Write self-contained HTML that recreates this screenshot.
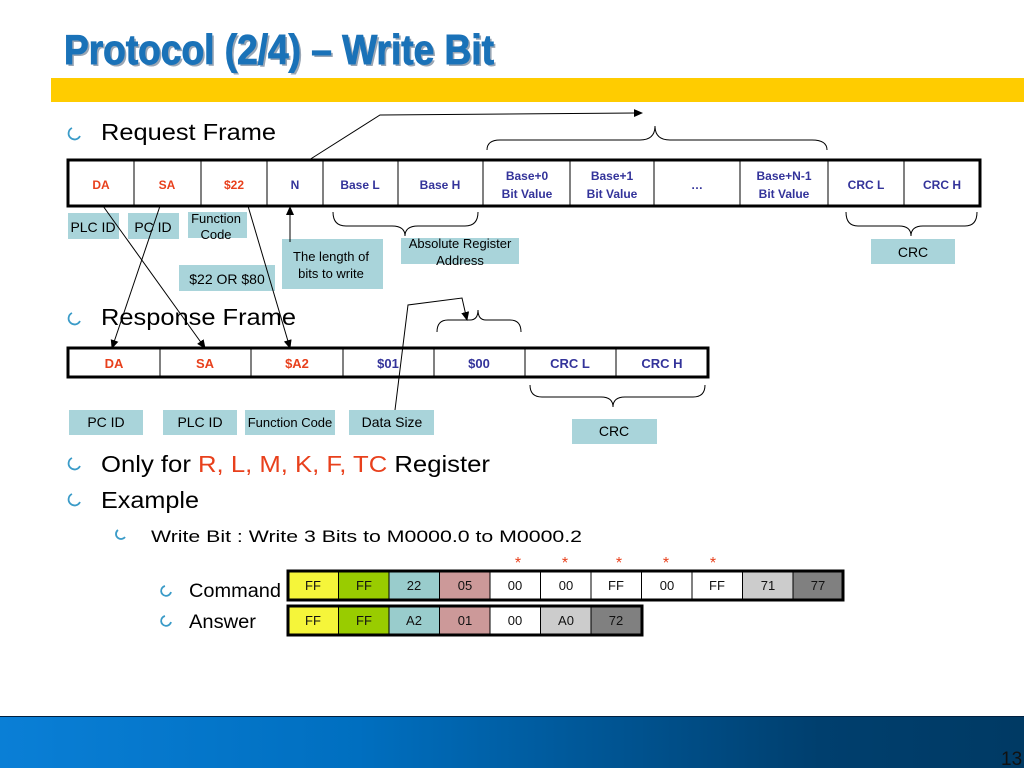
<!DOCTYPE html>
<html><head><meta charset="utf-8"><style>
body{margin:0;width:1024px;height:768px;overflow:hidden;background:#fff;font-family:"Liberation Sans",sans-serif;}
svg{position:absolute;left:0;top:0}
</style></head><body>
<svg width="1024" height="768" xmlns="http://www.w3.org/2000/svg" font-family="Liberation Sans, sans-serif">
<defs>
<linearGradient id="g" x1="0" x2="1"><stop offset="0" stop-color="#0a7fd6"/><stop offset="0.35" stop-color="#006fc0"/><stop offset="0.8" stop-color="#003f6e"/><stop offset="1" stop-color="#003a64"/></linearGradient>
<marker id="a" markerWidth="10" markerHeight="10" refX="8" refY="5" orient="auto" markerUnits="userSpaceOnUse"><path d="M0,1 L9,5 L0,9 z" fill="#000"/></marker>
</defs>
<text x="66" y="66" font-size="42" font-weight="bold" fill="#9aa6b4" textLength="430" lengthAdjust="spacingAndGlyphs">Protocol (2/4) – Write Bit</text>
<text x="64" y="64" font-size="42" font-weight="bold" fill="#1a72b8" stroke="#1a72b8" stroke-width="1" textLength="430" lengthAdjust="spacingAndGlyphs">Protocol (2/4) – Write Bit</text>
<rect x="51" y="78" width="973" height="24" fill="#ffcc00"/>
<rect x="0" y="716" width="1024" height="52" fill="url(#g)"/>
<line x1="0" y1="716.5" x2="1024" y2="716.5" stroke="#002040"/>
<text x="1001" y="765" font-size="19" fill="#111">13</text>

<g fill="none" stroke="#3a9bc8" stroke-width="1.8">
<path d="M72,128 a6,6 0 1 0 8,8"/><path d="M72,313 a6,6 0 1 0 8,8"/><path d="M72,458 a6,6 0 1 0 8,8"/><path d="M72,494 a6,6 0 1 0 8,8"/><path d="M118,530 a5,5 0 1 0 7,7"/><path d="M165,586 a5,5 0 1 0 6,6"/><path d="M165,616 a5,5 0 1 0 6,6"/>
</g>
<g font-size="23" fill="#000">
<text x="101" y="140" textLength="175" lengthAdjust="spacingAndGlyphs">Request Frame</text>
<text x="101" y="325" textLength="195" lengthAdjust="spacingAndGlyphs">Response Frame</text>
<text x="101" y="472" textLength="389" lengthAdjust="spacingAndGlyphs">Only for <tspan fill="#e8401c">R, L, M, K, F, TC</tspan> Register</text>
<text x="101" y="508" textLength="98" lengthAdjust="spacingAndGlyphs">Example</text>
</g>
<text x="151" y="542" font-size="17" textLength="431" lengthAdjust="spacingAndGlyphs">Write Bit : Write 3 Bits to M0000.0 to M0000.2</text>
<text x="189" y="597" font-size="19" textLength="92" lengthAdjust="spacingAndGlyphs">Command</text>
<text x="189" y="628" font-size="19" textLength="67" lengthAdjust="spacingAndGlyphs">Answer</text>

<!-- request table -->
<rect x="68" y="160" width="912" height="46" fill="#fff" stroke="#000" stroke-width="3"/>
<g stroke="#000" stroke-width="1">
<line x1="134" y1="160" x2="134" y2="206"/><line x1="201" y1="160" x2="201" y2="206"/><line x1="267" y1="160" x2="267" y2="206"/><line x1="323" y1="160" x2="323" y2="206"/><line x1="398" y1="160" x2="398" y2="206"/><line x1="483" y1="160" x2="483" y2="206"/><line x1="570" y1="160" x2="570" y2="206"/><line x1="654" y1="160" x2="654" y2="206"/><line x1="740" y1="160" x2="740" y2="206"/><line x1="828" y1="160" x2="828" y2="206"/><line x1="904" y1="160" x2="904" y2="206"/>
</g>
<g font-size="12" font-weight="bold" text-anchor="middle">
<g fill="#e8401c"><text x="101" y="189">DA</text><text x="167" y="189">SA</text><text x="234" y="189">$22</text></g>
<g fill="#33339a"><text x="295" y="189">N</text><text x="360" y="189">Base L</text><text x="440" y="189">Base H</text>
<text x="527" y="180">Base+0</text><text x="527" y="198">Bit Value</text>
<text x="612" y="180">Base+1</text><text x="612" y="198">Bit Value</text>
<text x="697" y="189">…</text>
<text x="784" y="180">Base+N-1</text><text x="784" y="198">Bit Value</text>
<text x="866" y="189">CRC L</text><text x="942" y="189">CRC H</text></g>
</g>
<!-- labels req -->
<g fill="#a9d4da">
<rect x="68" y="213" width="51" height="26"/><rect x="128" y="213" width="51" height="26"/><rect x="188" y="212" width="59" height="26"/>
<rect x="179" y="265" width="96" height="26"/><rect x="282" y="239" width="101" height="50"/><rect x="401" y="238" width="118" height="26"/><rect x="871" y="239" width="84" height="25"/>
</g>
<g font-size="14" text-anchor="middle" fill="#000">
<text x="93" y="232">PLC ID</text><text x="153" y="232">PC ID</text>
<text x="216" y="223" font-size="13">Function</text><text x="216" y="239" font-size="13">Code</text>
<text x="227" y="284">$22 OR $80</text>
<text x="331" y="261" font-size="13">The length of</text><text x="331" y="278" font-size="13">bits to write</text>
<text x="460" y="248" font-size="13">Absolute Register</text><text x="460" y="265" font-size="13">Address</text>
<text x="913" y="257">CRC</text>
</g>
<g fill="none" stroke="#000" stroke-width="1">
<path d="M309,160 L380,115 L642,113" marker-end="url(#a)"/>
<path d="M487,150 Q487,140 500,140 L640,140 Q655,140 655,126 Q655,140 670,140 L812,140 Q827,140 827,150"/>
<path d="M333,212 Q333,226 346,226 L392,226 Q405,226 405,236 Q405,226 418,226 L465,226 Q478,226 478,212"/>
<path d="M846,212 Q846,226 858,226 L899,226 Q911,226 911,236 Q911,226 923,226 L965,226 Q977,226 977,212"/>
<path d="M290,242 L290,207" marker-end="url(#a)"/>
<path d="M103,206 L205,348" marker-end="url(#a)"/>
<path d="M160,206 L112,348" marker-end="url(#a)"/>
<path d="M248,206 L290,348" marker-end="url(#a)"/>
<path d="M395,410 L408,305 L462,298 L467,320" marker-end="url(#a)"/>
<path d="M437,332 Q437,320 448,320 L470,320 Q478,320 478,310 Q478,320 486,320 L510,320 Q521,320 521,332"/>
<path d="M530,385 Q530,397 542,397 L601,397 Q613,397 613,407 Q613,397 625,397 L693,397 Q705,397 705,385"/>
</g>
<!-- response table -->
<rect x="68" y="348" width="640" height="29" fill="none" stroke="#000" stroke-width="3"/>
<g stroke="#000"><line x1="160" y1="348" x2="160" y2="377"/><line x1="251" y1="348" x2="251" y2="377"/><line x1="343" y1="348" x2="343" y2="377"/><line x1="434" y1="348" x2="434" y2="377"/><line x1="525" y1="348" x2="525" y2="377"/><line x1="616" y1="348" x2="616" y2="377"/></g>
<g font-size="13" font-weight="bold" text-anchor="middle">
<g fill="#e8401c"><text x="114" y="368">DA</text><text x="205" y="368">SA</text><text x="297" y="368">$A2</text></g>
<g fill="#33339a"><text x="388" y="368">$01</text><text x="479" y="368">$00</text><text x="570" y="368">CRC L</text><text x="662" y="368">CRC H</text></g>
</g>
<g fill="#a9d4da"><rect x="69" y="410" width="74" height="25"/><rect x="163" y="410" width="74" height="25"/><rect x="245" y="410" width="90" height="25"/><rect x="349" y="410" width="85" height="25"/><rect x="572" y="419" width="85" height="25"/></g>
<g font-size="14" text-anchor="middle"><text x="106" y="427">PC ID</text><text x="200" y="427">PLC ID</text><text x="290" y="427" font-size="13">Function Code</text><text x="392" y="427">Data Size</text><text x="614" y="436">CRC</text></g>

<!-- example tables -->
<g stroke="#000" stroke-width="1" font-size="13" text-anchor="middle">
<rect x="288" y="571" width="50.5" height="29" fill="#f5f53a"/><rect x="338.5" y="571" width="50.5" height="29" fill="#99cc00"/><rect x="389" y="571" width="50.5" height="29" fill="#99cccc"/><rect x="439.5" y="571" width="50.5" height="29" fill="#cc9999"/>
<rect x="490" y="571" width="50.5" height="29" fill="#fff"/><rect x="540.5" y="571" width="50.5" height="29" fill="#fff"/><rect x="591" y="571" width="50.5" height="29" fill="#fff"/><rect x="641.5" y="571" width="50.5" height="29" fill="#fff"/><rect x="692" y="571" width="50.5" height="29" fill="#fff"/><rect x="742.5" y="571" width="50.5" height="29" fill="#cccccc"/><rect x="793" y="571" width="50" height="29" fill="#808080"/>
<rect x="288" y="571" width="555" height="29" fill="none" stroke-width="3"/>
<rect x="288" y="606" width="50.5" height="29" fill="#f5f53a"/><rect x="338.5" y="606" width="50.5" height="29" fill="#99cc00"/><rect x="389" y="606" width="50.5" height="29" fill="#99cccc"/><rect x="439.5" y="606" width="50.5" height="29" fill="#cc9999"/><rect x="490" y="606" width="50.5" height="29" fill="#fff"/><rect x="540.5" y="606" width="50.5" height="29" fill="#cccccc"/><rect x="591" y="606" width="51" height="29" fill="#808080"/>
<rect x="288" y="606" width="354" height="29" fill="none" stroke-width="3"/>
</g>
<g font-size="13" text-anchor="middle" fill="#111">
<text x="313" y="590">FF</text><text x="364" y="590">FF</text><text x="414" y="590">22</text><text x="465" y="590">05</text><text x="515" y="590">00</text><text x="566" y="590">00</text><text x="616" y="590">FF</text><text x="667" y="590">00</text><text x="717" y="590">FF</text><text x="768" y="590">71</text><text x="818" y="590">77</text>
<text x="313" y="625">FF</text><text x="364" y="625">FF</text><text x="414" y="625">A2</text><text x="465" y="625">01</text><text x="515" y="625">00</text><text x="566" y="625">A0</text><text x="616" y="625">72</text>
</g>
<g font-size="16" fill="#e8401c" text-anchor="middle"><text x="518" y="568">*</text><text x="565" y="568">*</text><text x="619" y="568">*</text><text x="666" y="568">*</text><text x="713" y="568">*</text></g>
</svg>
</body></html>
